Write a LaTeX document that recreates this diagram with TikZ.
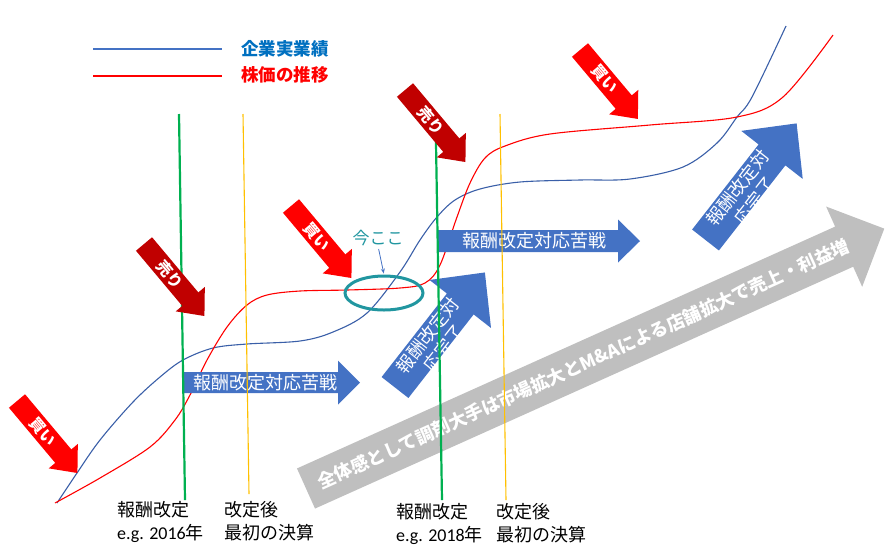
\documentclass[tikz,border=0pt]{standalone}
\usepackage{fontspec}
\setmainfont{Noto Sans CJK JP}
\newfontfamily\lat{Carlito}
\usetikzlibrary{shapes.geometric,arrows.meta}
\definecolor{cblue}{HTML}{4472C4}
\definecolor{curveblue}{HTML}{3A5FA8}
\definecolor{lblue}{HTML}{0070C0}
\definecolor{dred}{HTML}{C00000}
\definecolor{cgreen}{HTML}{00B050}
\definecolor{cyel}{HTML}{FFC000}
\definecolor{cgray}{HTML}{BFBFBF}
\definecolor{cteal}{HTML}{2196A0}
\tikzset{
  pics/barrow/.style n args={7}{code={
    \fill[#5] (0,-#2/2) -- (#1-#4,-#2/2) -- (#1-#4,-#3/2) -- (#1,0) -- (#1-#4,#3/2) -- (#1-#4,#2/2) -- (0,#2/2) -- cycle;
    \node[transform shape, text=white, inner sep=0pt, #6] (-t) {#7};
  }},
  pics/uparrow/.style n args={3}{code={
    \fill[cblue] (0,-17) -- (#1-40,-17) -- (#1-40,-39) -- (#1,0) -- (#1-40,39) -- (#1-40,17) -- (0,17) -- cycle;
    \node[transform shape, text=white, inner sep=0pt, btxt] (-t) at (61,-6.5) {#2};
    \node[transform shape, text=white, inner sep=0pt, btxt] (-u) at (61,14.5) {#3};
  }},
  rtxt/.style={font=\bfseries\fontsize{15.5}{15.5}\selectfont},
  btxt/.style={font=\fontsize{18}{18}\selectfont},
  gtxt/.style={font=\bfseries\fontsize{18}{18}\selectfont},
  lab/.style={font=\fontsize{18}{22}\selectfont, inner sep=0pt, anchor=west},
  legtxt/.style={font=\bfseries\fontsize{17.5}{22}\selectfont, inner sep=0pt, anchor=west},
  gline/.style={cgreen, line width=2.2pt},
  yline/.style={cyel, line width=1.1pt},
}
\begin{document}
\begin{tikzpicture}[x=1pt,y=-1pt]
\useasboundingbox (0,0) rectangle (896,550);
% legend
\coordinate (lb1) at (93,49); \coordinate (lb2) at (222,49);
\coordinate (lr1) at (93,76); \coordinate (lr2) at (222,76);
\draw[cblue, line width=1.1pt] (lb1) -- (lb2);
\draw[red, line width=1.1pt] (lr1) -- (lr2);
\node[legtxt, text=lblue] (leg1) at (241,48.5) {企業実業績};
\node[legtxt, text=red] (leg2) at (241,75) {株価の推移};
% curves
\draw[curveblue, line width=1.1pt] plot[smooth, tension=0.55] coordinates {(57,503) (77,473) (100,440) (133,402) (160,377) (183,360) (213,348) (247,344) (300,341) (333,332) (367,313) (400,272) (420,240) (437,217) (455,200) (480,189) (520,182) (580,180) (630,179) (683,167) (717,143) (737,117) (752,97) (786,26)};
\draw[red, line width=1.1pt] plot[smooth, tension=0.55] coordinates {(55,503) (100,478) (150,447) (175,420) (190,395) (207,360) (227,327) (247,305) (267,295) (300,291) (347,290) (400,288) (425,283) (440,265) (457,217) (470,183) (485,158) (505,146) (550,134) (650,125) (737,117) (783,97) (833,35)};
% gray arrow
\pic[rotate=24.2] (zen) at (306,488.5) {barrow={634}{44}{88}{44}{cgray}{gtxt,at={(304,0)}}{全体感として調剤大手は市場拡大とM\&Aによる店舗拡大で売上・利益増}};
% blue arrows
\pic (pa) at (183,382.5) {barrow={177}{21}{44}{22}{cblue}{btxt,at={(82,0)}}{報酬改定対応苦戦}};
\pic (pb) at (437,241) {barrow={203}{22}{43}{22}{cblue}{btxt,at={(97,0)}}{報酬改定対応苦戦}};
\pic[rotate=52] (ka) at (395,387.5) {uparrow={146}{報酬改定対}{応完了}};
\pic[rotate=52] (kb) at (705.5,240) {uparrow={148}{報酬改定対}{応完了}};
% vertical lines
\draw[gline] (179,114) -- (185,500);
\draw[yline] (243,114) -- (249,494);
\draw[gline] (435.5,114) -- (442,500);
\draw[yline] (500,114) -- (506,500);
% ellipse and label
\node[draw=cteal, ellipse, line width=3pt, minimum width=78pt, minimum height=34pt, inner sep=0pt] (now) at (384,293) {};
\node[text=cteal, font=\fontsize{17}{17}\selectfont, inner sep=0pt] (imakoko) at (378,238) {今ここ};
\draw[cblue, line width=0.8pt, -{Stealth[length=5pt,width=4pt]}, shorten <=3pt, shorten >=1pt] (imakoko.south) -- (now.north);
% red arrows
\pic[rotate=-50] (b1) at (17,401) {barrow={94}{21}{38}{22}{red}{rtxt,at={(40,0)}}{買い}};
\pic[rotate=-50] (s1) at (144,244) {barrow={94}{21}{38}{22}{dred}{rtxt,at={(40,0)}}{売り}};
\pic[rotate=-50] (b2) at (291,206) {barrow={94}{21}{38}{22}{red}{rtxt,at={(40,0)}}{買い}};
\pic[rotate=-50] (s2) at (405,90) {barrow={94}{21}{38}{22}{dred}{rtxt,at={(40,0)}}{売り}};
\pic[rotate=-50] (b3) at (580,50) {barrow={90}{21}{38}{22}{red}{rtxt,at={(38,0)}}{買い}};
% bottom labels
\node[lab] (g1a) at (117,510) {報酬改定};
\node[lab] (g1b) at (117,533) {{\lat e.g. 2016}年};
\node[lab] (y1a) at (224,510) {改定後};
\node[lab] (y1b) at (224,533) {最初の決算};
\node[lab] (g2a) at (396,512) {報酬改定};
\node[lab] (g2b) at (396,535) {{\lat e.g. 2018}年};
\node[lab] (y2a) at (496,512) {改定後};
\node[lab] (y2b) at (496,535) {最初の決算};
\end{tikzpicture}
\end{document}
